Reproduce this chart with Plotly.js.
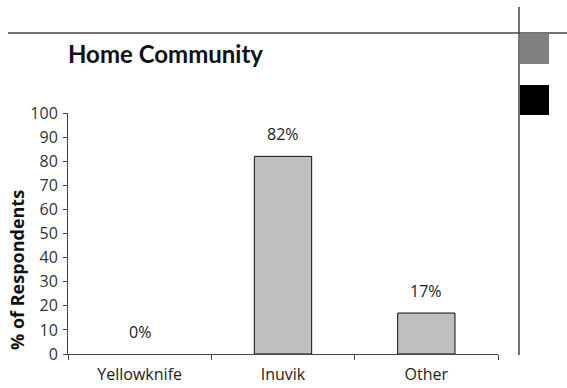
<!DOCTYPE html>
<html>
<head>
<meta charset="utf-8">
<script src="https://cdn.plot.ly/plotly-3.0.1.min.js"></script>
<style>
  html, body { margin: 0; padding: 0; background: #fff; }
  #chart { width: 567px; height: 388px; }
</style>
</head>
<body>
<div id="chart"></div>
<script>
// Survey data: home community of respondents
const categories = ['Yellowknife', 'Inuvik', 'Other'];
const percentValues = [0, 82, 17];
const yTickValues = [0, 10, 20, 30, 40, 50, 60, 70, 80, 90, 100];

const W = 567, H = 388;
const margin = { l: 68, r: 69, t: 113, b: 34 };
const plotW = W - margin.l - margin.r;
const plotH = H - margin.t - margin.b;
// convert page pixels into paper coordinates for decorative shapes
const px = x => (x - margin.l) / plotW;
const py = y => (H - margin.b - y) / plotH;

const fontFamily = '"Open Sans", "Noto Sans", sans-serif';
const titleFamily = 'Lato, "Open Sans", sans-serif';
const lineColor = '#444';

const trace = {
  type: 'bar',
  x: categories,
  y: percentValues,
  width: 0.4,
  marker: {
    color: '#bfbfc1',
    line: { color: '#111', width: percentValues.map(v => (v > 0 ? 1 : 0)) }
  },
  hoverinfo: 'skip'
};

// value labels sit above each bar
const valueLabels = categories.map((c, i) => ({
  text: percentValues[i] + '%',
  xref: 'x', yref: 'y',
  x: c, y: percentValues[i],
  xanchor: 'center', yanchor: 'bottom',
  yshift: 9,
  showarrow: false,
  font: { family: fontFamily, size: 16, color: '#222' }
}));

const layout = {
  width: W,
  height: H,
  margin: margin,
  paper_bgcolor: '#fff',
  plot_bgcolor: '#fff',
  showlegend: false,
  font: { family: fontFamily, color: '#222' },
  xaxis: {
    type: 'category',
    range: [-0.5, 2.5],
    showline: true,
    linecolor: lineColor,
    linewidth: 1,
    ticks: 'outside',
    tickson: 'boundaries',
    ticklen: 5,
    tickcolor: lineColor,
    showgrid: false,
    zeroline: false,
    tickfont: { family: fontFamily, size: 16, color: '#222' },
    ticklabelstandoff: 6,
    fixedrange: true
  },
  yaxis: {
    range: [0, 100],
    tickvals: yTickValues,
    ticktext: yTickValues.map(String),
    showline: true,
    linecolor: lineColor,
    linewidth: 1,
    ticks: 'outside',
    ticklen: 4,
    tickcolor: lineColor,
    showgrid: false,
    zeroline: false,
    tickfont: { family: fontFamily, size: 16, color: '#333' },
    ticklabelstandoff: 2,
    fixedrange: true
  },
  annotations: valueLabels.concat([
    {
      text: '<b>Home Community</b>',
      xref: 'paper', yref: 'paper',
      x: px(66), y: py(53),
      xanchor: 'left', yanchor: 'middle',
      showarrow: false,
      font: { family: titleFamily, size: 24, color: '#111' }
    },
    {
      text: '<b>% of Respondents</b>',
      xref: 'paper', yref: 'paper',
      x: px(17), y: py(270),
      xanchor: 'center', yanchor: 'middle',
      textangle: -90,
      showarrow: false,
      font: { family: fontFamily, size: 18, color: '#111' }
    }
  ]),
  shapes: [
    // horizontal rule across the top
    { type: 'line', xref: 'paper', yref: 'paper',
      x0: px(8), x1: px(567), y0: py(33), y1: py(33),
      line: { color: lineColor, width: 1.5 } },
    // vertical rule on the right
    { type: 'line', xref: 'paper', yref: 'paper',
      x0: px(519), x1: px(519), y0: py(7), y1: py(355),
      line: { color: lineColor, width: 1.5 } },
    // grey tab
    { type: 'rect', xref: 'paper', yref: 'paper',
      x0: px(520), x1: px(549), y0: py(34), y1: py(64),
      fillcolor: '#808080', line: { width: 0 } },
    // black tab
    { type: 'rect', xref: 'paper', yref: 'paper',
      x0: px(520), x1: px(549), y0: py(85), y1: py(115),
      fillcolor: '#000', line: { width: 0 } }
  ]
};

Plotly.newPlot('chart', [trace], layout, { displayModeBar: false, staticPlot: true });
</script>
</body>
</html>
